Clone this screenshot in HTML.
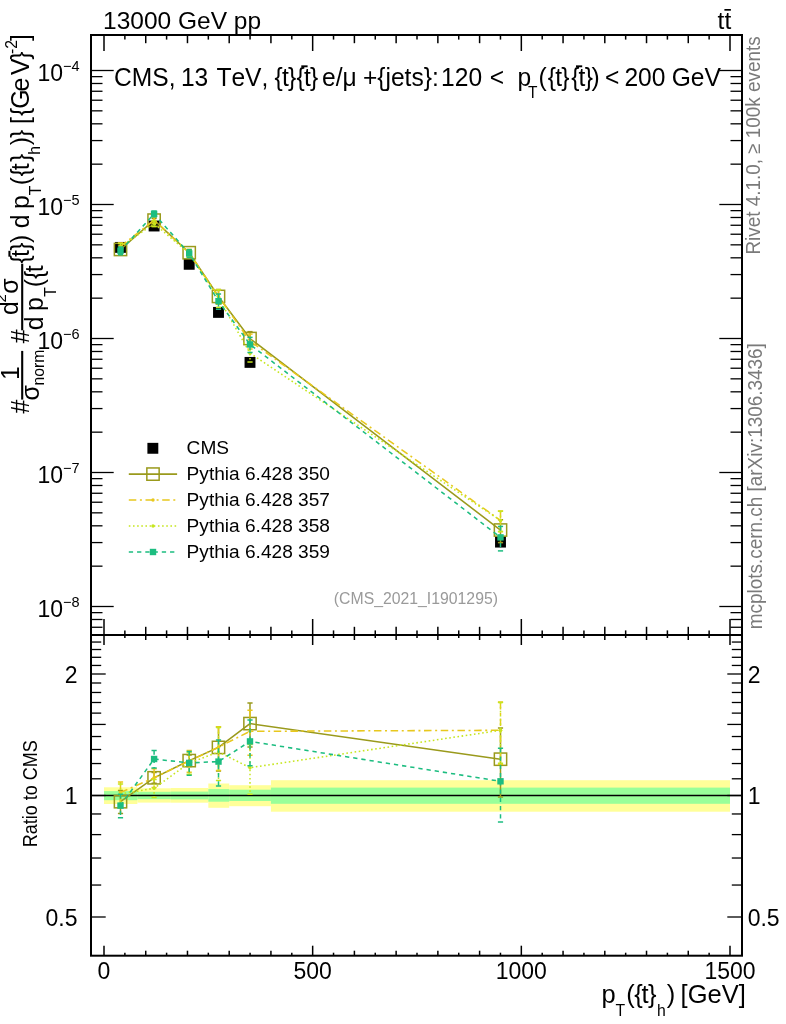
<!DOCTYPE html>
<html><head><meta charset="utf-8"><title>plot</title>
<style>
html,body{margin:0;padding:0;background:#fff;}
body{width:786px;height:1024px;overflow:hidden;font-family:"Liberation Sans",sans-serif;}
svg{display:block;font-kerning:none;will-change:transform;font-family:"Liberation Sans",sans-serif;}
</style></head><body>
<svg width="786" height="1024" viewBox="0 0 786 1024">
<rect width="786" height="1024" fill="#fff"/>
<rect x="104.00" y="787.30" width="33.39" height="16.70" fill="#ffff99"/>
<rect x="137.39" y="788.30" width="33.39" height="14.30" fill="#ffff99"/>
<rect x="170.77" y="788.00" width="37.56" height="14.70" fill="#ffff99"/>
<rect x="208.33" y="783.50" width="20.87" height="24.30" fill="#ffff99"/>
<rect x="229.20" y="785.20" width="41.73" height="21.00" fill="#ffff99"/>
<rect x="270.93" y="780.20" width="459.06" height="31.50" fill="#ffff99"/>
<rect x="104.00" y="791.10" width="33.39" height="9.10" fill="#99ff99"/>
<rect x="137.39" y="791.80" width="33.39" height="7.40" fill="#99ff99"/>
<rect x="170.77" y="791.60" width="37.56" height="7.80" fill="#99ff99"/>
<rect x="208.33" y="789.10" width="20.87" height="12.60" fill="#99ff99"/>
<rect x="229.20" y="789.70" width="41.73" height="11.30" fill="#99ff99"/>
<rect x="270.93" y="787.60" width="459.06" height="16.20" fill="#99ff99"/>
<line x1="91.00" y1="795.50" x2="742.00" y2="795.50" stroke="#000" stroke-width="1.3" />
<defs><clipPath id="cm"><rect x="91.0" y="35.0" width="651.0" height="600.0"/></clipPath><clipPath id="cr"><rect x="91.0" y="635.0" width="651.0" height="320.70000000000005"/></clipPath></defs>
<g clip-path="url(#cm)">
<rect x="115.05" y="241.95" width="10.9" height="10.9" fill="#000"/>
<rect x="148.65" y="220.55" width="10.9" height="10.9" fill="#000"/>
<rect x="183.75" y="258.85" width="10.9" height="10.9" fill="#000"/>
<rect x="213.05" y="306.95" width="10.9" height="10.9" fill="#000"/>
<rect x="244.55" y="356.95" width="10.9" height="10.9" fill="#000"/>
<rect x="495.05" y="536.65" width="10.9" height="10.9" fill="#000"/>
<polyline fill="none" stroke="#9a9a1c" stroke-width="1.55"  points="120.50,249.46 154.10,220.12 189.20,252.71 218.50,296.43 250.00,338.53 500.50,530.05"/>
<line x1="120.50" y1="245.77" x2="120.50" y2="253.39" stroke="#9a9a1c" stroke-width="1.5" />
<line x1="117.90" y1="245.77" x2="123.10" y2="245.77" stroke="#9a9a1c" stroke-width="1.5" />
<line x1="117.90" y1="253.39" x2="123.10" y2="253.39" stroke="#9a9a1c" stroke-width="1.5" />
<line x1="154.10" y1="218.36" x2="154.10" y2="221.94" stroke="#9a9a1c" stroke-width="1.5" />
<line x1="151.50" y1="218.36" x2="156.70" y2="218.36" stroke="#9a9a1c" stroke-width="1.5" />
<line x1="151.50" y1="221.94" x2="156.70" y2="221.94" stroke="#9a9a1c" stroke-width="1.5" />
<line x1="189.20" y1="250.85" x2="189.20" y2="254.63" stroke="#9a9a1c" stroke-width="1.5" />
<line x1="186.60" y1="250.85" x2="191.80" y2="250.85" stroke="#9a9a1c" stroke-width="1.5" />
<line x1="186.60" y1="254.63" x2="191.80" y2="254.63" stroke="#9a9a1c" stroke-width="1.5" />
<line x1="218.50" y1="289.56" x2="218.50" y2="304.22" stroke="#9a9a1c" stroke-width="1.5" />
<line x1="215.90" y1="289.56" x2="221.10" y2="289.56" stroke="#9a9a1c" stroke-width="1.5" />
<line x1="215.90" y1="304.22" x2="221.10" y2="304.22" stroke="#9a9a1c" stroke-width="1.5" />
<line x1="250.00" y1="331.66" x2="250.00" y2="346.32" stroke="#9a9a1c" stroke-width="1.5" />
<line x1="247.40" y1="331.66" x2="252.60" y2="331.66" stroke="#9a9a1c" stroke-width="1.5" />
<line x1="247.40" y1="346.32" x2="252.60" y2="346.32" stroke="#9a9a1c" stroke-width="1.5" />
<line x1="500.50" y1="519.72" x2="500.50" y2="542.61" stroke="#9a9a1c" stroke-width="1.5" />
<line x1="497.90" y1="519.72" x2="503.10" y2="519.72" stroke="#9a9a1c" stroke-width="1.5" />
<line x1="497.90" y1="542.61" x2="503.10" y2="542.61" stroke="#9a9a1c" stroke-width="1.5" />
<rect x="114.35" y="243.31" width="12.3" height="12.3" fill="none" stroke="#9a9a1c" stroke-width="1.5"/>
<rect x="147.95" y="213.97" width="12.3" height="12.3" fill="none" stroke="#9a9a1c" stroke-width="1.5"/>
<rect x="183.05" y="246.56" width="12.3" height="12.3" fill="none" stroke="#9a9a1c" stroke-width="1.5"/>
<rect x="212.35" y="290.28" width="12.3" height="12.3" fill="none" stroke="#9a9a1c" stroke-width="1.5"/>
<rect x="243.85" y="332.38" width="12.3" height="12.3" fill="none" stroke="#9a9a1c" stroke-width="1.5"/>
<rect x="494.35" y="523.90" width="12.3" height="12.3" fill="none" stroke="#9a9a1c" stroke-width="1.5"/>
<polyline fill="none" stroke="#e8c81e" stroke-width="1.55" stroke-dasharray="7.5 3.6 2 3.6" points="120.50,246.40 154.10,220.12 189.20,252.85 218.50,296.36 250.00,341.08 500.50,520.45"/>
<line x1="120.50" y1="242.92" x2="120.50" y2="250.11" stroke="#e8c81e" stroke-width="1.5" stroke-dasharray="7.5 3.6 2 3.6"/>
<line x1="117.90" y1="242.92" x2="123.10" y2="242.92" stroke="#e8c81e" stroke-width="1.5" />
<line x1="117.90" y1="250.11" x2="123.10" y2="250.11" stroke="#e8c81e" stroke-width="1.5" />
<line x1="154.10" y1="217.10" x2="154.10" y2="223.31" stroke="#e8c81e" stroke-width="1.5" stroke-dasharray="7.5 3.6 2 3.6"/>
<line x1="151.50" y1="217.10" x2="156.70" y2="217.10" stroke="#e8c81e" stroke-width="1.5" />
<line x1="151.50" y1="223.31" x2="156.70" y2="223.31" stroke="#e8c81e" stroke-width="1.5" />
<line x1="189.20" y1="249.36" x2="189.20" y2="256.55" stroke="#e8c81e" stroke-width="1.5" stroke-dasharray="7.5 3.6 2 3.6"/>
<line x1="186.60" y1="249.36" x2="191.80" y2="249.36" stroke="#e8c81e" stroke-width="1.5" />
<line x1="186.60" y1="256.55" x2="191.80" y2="256.55" stroke="#e8c81e" stroke-width="1.5" />
<line x1="218.50" y1="289.56" x2="218.50" y2="304.07" stroke="#e8c81e" stroke-width="1.5" stroke-dasharray="7.5 3.6 2 3.6"/>
<line x1="215.90" y1="289.56" x2="221.10" y2="289.56" stroke="#e8c81e" stroke-width="1.5" />
<line x1="215.90" y1="304.07" x2="221.10" y2="304.07" stroke="#e8c81e" stroke-width="1.5" />
<line x1="250.00" y1="334.11" x2="250.00" y2="349.01" stroke="#e8c81e" stroke-width="1.5" stroke-dasharray="7.5 3.6 2 3.6"/>
<line x1="247.40" y1="334.11" x2="252.60" y2="334.11" stroke="#e8c81e" stroke-width="1.5" />
<line x1="247.40" y1="349.01" x2="252.60" y2="349.01" stroke="#e8c81e" stroke-width="1.5" />
<line x1="500.50" y1="511.02" x2="500.50" y2="531.71" stroke="#e8c81e" stroke-width="1.5" stroke-dasharray="7.5 3.6 2 3.6"/>
<line x1="497.90" y1="511.02" x2="503.10" y2="511.02" stroke="#e8c81e" stroke-width="1.5" />
<line x1="497.90" y1="531.71" x2="503.10" y2="531.71" stroke="#e8c81e" stroke-width="1.5" />
<circle cx="120.50" cy="246.40" r="1.7" fill="#e8c81e"/>
<circle cx="154.10" cy="220.12" r="1.7" fill="#e8c81e"/>
<circle cx="189.20" cy="252.85" r="1.7" fill="#e8c81e"/>
<circle cx="218.50" cy="296.36" r="1.7" fill="#e8c81e"/>
<circle cx="250.00" cy="341.08" r="1.7" fill="#e8c81e"/>
<circle cx="500.50" cy="520.45" r="1.7" fill="#e8c81e"/>
<polyline fill="none" stroke="#c6e61e" stroke-width="1.55" stroke-dasharray="1.6 2.56" points="120.50,246.90 154.10,223.61 189.20,253.51 218.50,297.96 250.00,353.17 500.50,520.45"/>
<line x1="120.50" y1="243.58" x2="120.50" y2="250.42" stroke="#c6e61e" stroke-width="1.5" stroke-dasharray="1.6 2.56"/>
<line x1="117.90" y1="243.58" x2="123.10" y2="243.58" stroke="#c6e61e" stroke-width="1.5" />
<line x1="117.90" y1="250.42" x2="123.10" y2="250.42" stroke="#c6e61e" stroke-width="1.5" />
<line x1="154.10" y1="220.72" x2="154.10" y2="226.65" stroke="#c6e61e" stroke-width="1.5" stroke-dasharray="1.6 2.56"/>
<line x1="151.50" y1="220.72" x2="156.70" y2="220.72" stroke="#c6e61e" stroke-width="1.5" />
<line x1="151.50" y1="226.65" x2="156.70" y2="226.65" stroke="#c6e61e" stroke-width="1.5" />
<line x1="189.20" y1="250.02" x2="189.20" y2="257.22" stroke="#c6e61e" stroke-width="1.5" stroke-dasharray="1.6 2.56"/>
<line x1="186.60" y1="250.02" x2="191.80" y2="250.02" stroke="#c6e61e" stroke-width="1.5" />
<line x1="186.60" y1="257.22" x2="191.80" y2="257.22" stroke="#c6e61e" stroke-width="1.5" />
<line x1="218.50" y1="289.82" x2="218.50" y2="307.42" stroke="#c6e61e" stroke-width="1.5" stroke-dasharray="1.6 2.56"/>
<line x1="215.90" y1="289.82" x2="221.10" y2="289.82" stroke="#c6e61e" stroke-width="1.5" />
<line x1="215.90" y1="307.42" x2="221.10" y2="307.42" stroke="#c6e61e" stroke-width="1.5" />
<line x1="250.00" y1="345.50" x2="250.00" y2="362.01" stroke="#c6e61e" stroke-width="1.5" stroke-dasharray="1.6 2.56"/>
<line x1="247.40" y1="345.50" x2="252.60" y2="345.50" stroke="#c6e61e" stroke-width="1.5" />
<line x1="247.40" y1="362.01" x2="252.60" y2="362.01" stroke="#c6e61e" stroke-width="1.5" />
<line x1="500.50" y1="511.22" x2="500.50" y2="531.43" stroke="#c6e61e" stroke-width="1.5" stroke-dasharray="1.6 2.56"/>
<line x1="497.90" y1="511.22" x2="503.10" y2="511.22" stroke="#c6e61e" stroke-width="1.5" />
<line x1="497.90" y1="531.43" x2="503.10" y2="531.43" stroke="#c6e61e" stroke-width="1.5" />
<circle cx="120.50" cy="246.90" r="1.7" fill="#c6e61e"/>
<circle cx="154.10" cy="223.61" r="1.7" fill="#c6e61e"/>
<circle cx="189.20" cy="253.51" r="1.7" fill="#c6e61e"/>
<circle cx="218.50" cy="297.96" r="1.7" fill="#c6e61e"/>
<circle cx="250.00" cy="353.17" r="1.7" fill="#c6e61e"/>
<circle cx="500.50" cy="520.45" r="1.7" fill="#c6e61e"/>
<polyline fill="none" stroke="#1cbd80" stroke-width="1.55" stroke-dasharray="4.3 3.95" points="120.50,250.75 154.10,213.88 189.20,253.48 218.50,301.14 250.00,344.44 500.50,537.39"/>
<line x1="120.50" y1="247.00" x2="120.50" y2="254.76" stroke="#1cbd80" stroke-width="1.5" stroke-dasharray="4.3 3.95"/>
<line x1="117.90" y1="247.00" x2="123.10" y2="247.00" stroke="#1cbd80" stroke-width="1.5" />
<line x1="117.90" y1="254.76" x2="123.10" y2="254.76" stroke="#1cbd80" stroke-width="1.5" />
<line x1="154.10" y1="211.06" x2="154.10" y2="216.85" stroke="#1cbd80" stroke-width="1.5" stroke-dasharray="4.3 3.95"/>
<line x1="151.50" y1="211.06" x2="156.70" y2="211.06" stroke="#1cbd80" stroke-width="1.5" />
<line x1="151.50" y1="216.85" x2="156.70" y2="216.85" stroke="#1cbd80" stroke-width="1.5" />
<line x1="189.20" y1="249.66" x2="189.20" y2="257.56" stroke="#1cbd80" stroke-width="1.5" stroke-dasharray="4.3 3.95"/>
<line x1="186.60" y1="249.66" x2="191.80" y2="249.66" stroke="#1cbd80" stroke-width="1.5" />
<line x1="186.60" y1="257.56" x2="191.80" y2="257.56" stroke="#1cbd80" stroke-width="1.5" />
<line x1="218.50" y1="294.01" x2="218.50" y2="309.28" stroke="#1cbd80" stroke-width="1.5" stroke-dasharray="4.3 3.95"/>
<line x1="215.90" y1="294.01" x2="221.10" y2="294.01" stroke="#1cbd80" stroke-width="1.5" />
<line x1="215.90" y1="309.28" x2="221.10" y2="309.28" stroke="#1cbd80" stroke-width="1.5" />
<line x1="250.00" y1="337.37" x2="250.00" y2="352.49" stroke="#1cbd80" stroke-width="1.5" stroke-dasharray="4.3 3.95"/>
<line x1="247.40" y1="337.37" x2="252.60" y2="337.37" stroke="#1cbd80" stroke-width="1.5" />
<line x1="247.40" y1="352.49" x2="252.60" y2="352.49" stroke="#1cbd80" stroke-width="1.5" />
<line x1="500.50" y1="526.43" x2="500.50" y2="550.89" stroke="#1cbd80" stroke-width="1.5" stroke-dasharray="4.3 3.95"/>
<line x1="497.90" y1="526.43" x2="503.10" y2="526.43" stroke="#1cbd80" stroke-width="1.5" />
<line x1="497.90" y1="550.89" x2="503.10" y2="550.89" stroke="#1cbd80" stroke-width="1.5" />
<rect x="117.30" y="247.55" width="6.4" height="6.4" fill="#1cbd80"/>
<rect x="150.90" y="210.68" width="6.4" height="6.4" fill="#1cbd80"/>
<rect x="186.00" y="250.28" width="6.4" height="6.4" fill="#1cbd80"/>
<rect x="215.30" y="297.94" width="6.4" height="6.4" fill="#1cbd80"/>
<rect x="246.80" y="341.24" width="6.4" height="6.4" fill="#1cbd80"/>
<rect x="497.30" y="534.19" width="6.4" height="6.4" fill="#1cbd80"/>
</g>
<g clip-path="url(#cr)">
<polyline fill="none" stroke="#9a9a1c" stroke-width="1.55"  points="120.50,801.70 154.10,777.80 189.20,760.60 218.50,747.40 250.00,723.60 500.50,759.20"/>
<line x1="120.50" y1="790.60" x2="120.50" y2="813.55" stroke="#9a9a1c" stroke-width="1.5" />
<line x1="117.90" y1="790.60" x2="123.10" y2="790.60" stroke="#9a9a1c" stroke-width="1.5" />
<line x1="117.90" y1="813.55" x2="123.10" y2="813.55" stroke="#9a9a1c" stroke-width="1.5" />
<line x1="154.10" y1="772.50" x2="154.10" y2="783.27" stroke="#9a9a1c" stroke-width="1.5" />
<line x1="151.50" y1="772.50" x2="156.70" y2="772.50" stroke="#9a9a1c" stroke-width="1.5" />
<line x1="151.50" y1="783.27" x2="156.70" y2="783.27" stroke="#9a9a1c" stroke-width="1.5" />
<line x1="189.20" y1="755.00" x2="189.20" y2="766.38" stroke="#9a9a1c" stroke-width="1.5" />
<line x1="186.60" y1="755.00" x2="191.80" y2="755.00" stroke="#9a9a1c" stroke-width="1.5" />
<line x1="186.60" y1="766.38" x2="191.80" y2="766.38" stroke="#9a9a1c" stroke-width="1.5" />
<line x1="218.50" y1="726.70" x2="218.50" y2="770.88" stroke="#9a9a1c" stroke-width="1.5" />
<line x1="215.90" y1="726.70" x2="221.10" y2="726.70" stroke="#9a9a1c" stroke-width="1.5" />
<line x1="215.90" y1="770.88" x2="221.10" y2="770.88" stroke="#9a9a1c" stroke-width="1.5" />
<line x1="250.00" y1="702.90" x2="250.00" y2="747.08" stroke="#9a9a1c" stroke-width="1.5" />
<line x1="247.40" y1="702.90" x2="252.60" y2="702.90" stroke="#9a9a1c" stroke-width="1.5" />
<line x1="247.40" y1="747.08" x2="252.60" y2="747.08" stroke="#9a9a1c" stroke-width="1.5" />
<line x1="500.50" y1="728.10" x2="500.50" y2="797.03" stroke="#9a9a1c" stroke-width="1.5" />
<line x1="497.90" y1="728.10" x2="503.10" y2="728.10" stroke="#9a9a1c" stroke-width="1.5" />
<line x1="497.90" y1="797.03" x2="503.10" y2="797.03" stroke="#9a9a1c" stroke-width="1.5" />
<rect x="114.35" y="795.55" width="12.3" height="12.3" fill="none" stroke="#9a9a1c" stroke-width="1.5"/>
<rect x="147.95" y="771.65" width="12.3" height="12.3" fill="none" stroke="#9a9a1c" stroke-width="1.5"/>
<rect x="183.05" y="754.45" width="12.3" height="12.3" fill="none" stroke="#9a9a1c" stroke-width="1.5"/>
<rect x="212.35" y="741.25" width="12.3" height="12.3" fill="none" stroke="#9a9a1c" stroke-width="1.5"/>
<rect x="243.85" y="717.45" width="12.3" height="12.3" fill="none" stroke="#9a9a1c" stroke-width="1.5"/>
<rect x="494.35" y="753.05" width="12.3" height="12.3" fill="none" stroke="#9a9a1c" stroke-width="1.5"/>
<polyline fill="none" stroke="#e8c81e" stroke-width="1.55" stroke-dasharray="7.5 3.6 2 3.6" points="120.50,792.50 154.10,777.80 189.20,761.00 218.50,747.20 250.00,731.30 500.50,730.30"/>
<line x1="120.50" y1="782.00" x2="120.50" y2="803.67" stroke="#e8c81e" stroke-width="1.5" stroke-dasharray="7.5 3.6 2 3.6"/>
<line x1="117.90" y1="782.00" x2="123.10" y2="782.00" stroke="#e8c81e" stroke-width="1.5" />
<line x1="117.90" y1="803.67" x2="123.10" y2="803.67" stroke="#e8c81e" stroke-width="1.5" />
<line x1="154.10" y1="768.70" x2="154.10" y2="787.40" stroke="#e8c81e" stroke-width="1.5" stroke-dasharray="7.5 3.6 2 3.6"/>
<line x1="151.50" y1="768.70" x2="156.70" y2="768.70" stroke="#e8c81e" stroke-width="1.5" />
<line x1="151.50" y1="787.40" x2="156.70" y2="787.40" stroke="#e8c81e" stroke-width="1.5" />
<line x1="189.20" y1="750.50" x2="189.20" y2="772.17" stroke="#e8c81e" stroke-width="1.5" stroke-dasharray="7.5 3.6 2 3.6"/>
<line x1="186.60" y1="750.50" x2="191.80" y2="750.50" stroke="#e8c81e" stroke-width="1.5" />
<line x1="186.60" y1="772.17" x2="191.80" y2="772.17" stroke="#e8c81e" stroke-width="1.5" />
<line x1="218.50" y1="726.70" x2="218.50" y2="770.42" stroke="#e8c81e" stroke-width="1.5" stroke-dasharray="7.5 3.6 2 3.6"/>
<line x1="215.90" y1="726.70" x2="221.10" y2="726.70" stroke="#e8c81e" stroke-width="1.5" />
<line x1="215.90" y1="770.42" x2="221.10" y2="770.42" stroke="#e8c81e" stroke-width="1.5" />
<line x1="250.00" y1="710.30" x2="250.00" y2="755.16" stroke="#e8c81e" stroke-width="1.5" stroke-dasharray="7.5 3.6 2 3.6"/>
<line x1="247.40" y1="710.30" x2="252.60" y2="710.30" stroke="#e8c81e" stroke-width="1.5" />
<line x1="247.40" y1="755.16" x2="252.60" y2="755.16" stroke="#e8c81e" stroke-width="1.5" />
<line x1="500.50" y1="701.90" x2="500.50" y2="764.21" stroke="#e8c81e" stroke-width="1.5" stroke-dasharray="7.5 3.6 2 3.6"/>
<line x1="497.90" y1="701.90" x2="503.10" y2="701.90" stroke="#e8c81e" stroke-width="1.5" />
<line x1="497.90" y1="764.21" x2="503.10" y2="764.21" stroke="#e8c81e" stroke-width="1.5" />
<circle cx="120.50" cy="792.50" r="1.7" fill="#e8c81e"/>
<circle cx="154.10" cy="777.80" r="1.7" fill="#e8c81e"/>
<circle cx="189.20" cy="761.00" r="1.7" fill="#e8c81e"/>
<circle cx="218.50" cy="747.20" r="1.7" fill="#e8c81e"/>
<circle cx="250.00" cy="731.30" r="1.7" fill="#e8c81e"/>
<circle cx="500.50" cy="730.30" r="1.7" fill="#e8c81e"/>
<polyline fill="none" stroke="#c6e61e" stroke-width="1.55" stroke-dasharray="1.6 2.56" points="120.50,794.00 154.10,788.30 189.20,763.00 218.50,752.00 250.00,767.70 500.50,730.30"/>
<line x1="120.50" y1="784.00" x2="120.50" y2="804.61" stroke="#c6e61e" stroke-width="1.5" stroke-dasharray="1.6 2.56"/>
<line x1="117.90" y1="784.00" x2="123.10" y2="784.00" stroke="#c6e61e" stroke-width="1.5" />
<line x1="117.90" y1="804.61" x2="123.10" y2="804.61" stroke="#c6e61e" stroke-width="1.5" />
<line x1="154.10" y1="779.60" x2="154.10" y2="797.45" stroke="#c6e61e" stroke-width="1.5" stroke-dasharray="1.6 2.56"/>
<line x1="151.50" y1="779.60" x2="156.70" y2="779.60" stroke="#c6e61e" stroke-width="1.5" />
<line x1="151.50" y1="797.45" x2="156.70" y2="797.45" stroke="#c6e61e" stroke-width="1.5" />
<line x1="189.20" y1="752.50" x2="189.20" y2="774.17" stroke="#c6e61e" stroke-width="1.5" stroke-dasharray="1.6 2.56"/>
<line x1="186.60" y1="752.50" x2="191.80" y2="752.50" stroke="#c6e61e" stroke-width="1.5" />
<line x1="186.60" y1="774.17" x2="191.80" y2="774.17" stroke="#c6e61e" stroke-width="1.5" />
<line x1="218.50" y1="727.50" x2="218.50" y2="780.49" stroke="#c6e61e" stroke-width="1.5" stroke-dasharray="1.6 2.56"/>
<line x1="215.90" y1="727.50" x2="221.10" y2="727.50" stroke="#c6e61e" stroke-width="1.5" />
<line x1="215.90" y1="780.49" x2="221.10" y2="780.49" stroke="#c6e61e" stroke-width="1.5" />
<line x1="250.00" y1="744.60" x2="250.00" y2="794.31" stroke="#c6e61e" stroke-width="1.5" stroke-dasharray="1.6 2.56"/>
<line x1="247.40" y1="744.60" x2="252.60" y2="744.60" stroke="#c6e61e" stroke-width="1.5" />
<line x1="247.40" y1="794.31" x2="252.60" y2="794.31" stroke="#c6e61e" stroke-width="1.5" />
<line x1="500.50" y1="702.50" x2="500.50" y2="763.36" stroke="#c6e61e" stroke-width="1.5" stroke-dasharray="1.6 2.56"/>
<line x1="497.90" y1="702.50" x2="503.10" y2="702.50" stroke="#c6e61e" stroke-width="1.5" />
<line x1="497.90" y1="763.36" x2="503.10" y2="763.36" stroke="#c6e61e" stroke-width="1.5" />
<circle cx="120.50" cy="794.00" r="1.7" fill="#c6e61e"/>
<circle cx="154.10" cy="788.30" r="1.7" fill="#c6e61e"/>
<circle cx="189.20" cy="763.00" r="1.7" fill="#c6e61e"/>
<circle cx="218.50" cy="752.00" r="1.7" fill="#c6e61e"/>
<circle cx="250.00" cy="767.70" r="1.7" fill="#c6e61e"/>
<circle cx="500.50" cy="730.30" r="1.7" fill="#c6e61e"/>
<polyline fill="none" stroke="#1cbd80" stroke-width="1.55" stroke-dasharray="4.3 3.95" points="120.50,805.60 154.10,759.00 189.20,762.90 218.50,761.60 250.00,741.40 500.50,781.30"/>
<line x1="120.50" y1="794.30" x2="120.50" y2="817.68" stroke="#1cbd80" stroke-width="1.5" stroke-dasharray="4.3 3.95"/>
<line x1="117.90" y1="794.30" x2="123.10" y2="794.30" stroke="#1cbd80" stroke-width="1.5" />
<line x1="117.90" y1="817.68" x2="123.10" y2="817.68" stroke="#1cbd80" stroke-width="1.5" />
<line x1="154.10" y1="750.50" x2="154.10" y2="767.93" stroke="#1cbd80" stroke-width="1.5" stroke-dasharray="4.3 3.95"/>
<line x1="151.50" y1="750.50" x2="156.70" y2="750.50" stroke="#1cbd80" stroke-width="1.5" />
<line x1="151.50" y1="767.93" x2="156.70" y2="767.93" stroke="#1cbd80" stroke-width="1.5" />
<line x1="189.20" y1="751.40" x2="189.20" y2="775.21" stroke="#1cbd80" stroke-width="1.5" stroke-dasharray="4.3 3.95"/>
<line x1="186.60" y1="751.40" x2="191.80" y2="751.40" stroke="#1cbd80" stroke-width="1.5" />
<line x1="186.60" y1="775.21" x2="191.80" y2="775.21" stroke="#1cbd80" stroke-width="1.5" />
<line x1="218.50" y1="740.10" x2="218.50" y2="786.11" stroke="#1cbd80" stroke-width="1.5" stroke-dasharray="4.3 3.95"/>
<line x1="215.90" y1="740.10" x2="221.10" y2="740.10" stroke="#1cbd80" stroke-width="1.5" />
<line x1="215.90" y1="786.11" x2="221.10" y2="786.11" stroke="#1cbd80" stroke-width="1.5" />
<line x1="250.00" y1="720.10" x2="250.00" y2="765.65" stroke="#1cbd80" stroke-width="1.5" stroke-dasharray="4.3 3.95"/>
<line x1="247.40" y1="720.10" x2="252.60" y2="720.10" stroke="#1cbd80" stroke-width="1.5" />
<line x1="247.40" y1="765.65" x2="252.60" y2="765.65" stroke="#1cbd80" stroke-width="1.5" />
<line x1="500.50" y1="748.30" x2="500.50" y2="821.99" stroke="#1cbd80" stroke-width="1.5" stroke-dasharray="4.3 3.95"/>
<line x1="497.90" y1="748.30" x2="503.10" y2="748.30" stroke="#1cbd80" stroke-width="1.5" />
<line x1="497.90" y1="821.99" x2="503.10" y2="821.99" stroke="#1cbd80" stroke-width="1.5" />
<rect x="117.30" y="802.40" width="6.4" height="6.4" fill="#1cbd80"/>
<rect x="150.90" y="755.80" width="6.4" height="6.4" fill="#1cbd80"/>
<rect x="186.00" y="759.70" width="6.4" height="6.4" fill="#1cbd80"/>
<rect x="215.30" y="758.40" width="6.4" height="6.4" fill="#1cbd80"/>
<rect x="246.80" y="738.20" width="6.4" height="6.4" fill="#1cbd80"/>
<rect x="497.30" y="778.10" width="6.4" height="6.4" fill="#1cbd80"/>
</g>
<line x1="104.00" y1="35.00" x2="104.00" y2="51.00" stroke="#000" stroke-width="1.5" />
<line x1="104.00" y1="619.00" x2="104.00" y2="645.00" stroke="#000" stroke-width="1.5" />
<line x1="104.00" y1="945.70" x2="104.00" y2="955.70" stroke="#000" stroke-width="1.5" />
<line x1="124.87" y1="35.00" x2="124.87" y2="39.60" stroke="#000" stroke-width="1.5" />
<line x1="124.87" y1="630.40" x2="124.87" y2="638.00" stroke="#000" stroke-width="1.5" />
<line x1="124.87" y1="952.70" x2="124.87" y2="955.70" stroke="#000" stroke-width="1.5" />
<line x1="145.73" y1="35.00" x2="145.73" y2="43.20" stroke="#000" stroke-width="1.5" />
<line x1="145.73" y1="626.80" x2="145.73" y2="640.00" stroke="#000" stroke-width="1.5" />
<line x1="145.73" y1="950.70" x2="145.73" y2="955.70" stroke="#000" stroke-width="1.5" />
<line x1="166.60" y1="35.00" x2="166.60" y2="39.60" stroke="#000" stroke-width="1.5" />
<line x1="166.60" y1="630.40" x2="166.60" y2="638.00" stroke="#000" stroke-width="1.5" />
<line x1="166.60" y1="952.70" x2="166.60" y2="955.70" stroke="#000" stroke-width="1.5" />
<line x1="187.47" y1="35.00" x2="187.47" y2="43.20" stroke="#000" stroke-width="1.5" />
<line x1="187.47" y1="626.80" x2="187.47" y2="640.00" stroke="#000" stroke-width="1.5" />
<line x1="187.47" y1="950.70" x2="187.47" y2="955.70" stroke="#000" stroke-width="1.5" />
<line x1="208.33" y1="35.00" x2="208.33" y2="39.60" stroke="#000" stroke-width="1.5" />
<line x1="208.33" y1="630.40" x2="208.33" y2="638.00" stroke="#000" stroke-width="1.5" />
<line x1="208.33" y1="952.70" x2="208.33" y2="955.70" stroke="#000" stroke-width="1.5" />
<line x1="229.20" y1="35.00" x2="229.20" y2="43.20" stroke="#000" stroke-width="1.5" />
<line x1="229.20" y1="626.80" x2="229.20" y2="640.00" stroke="#000" stroke-width="1.5" />
<line x1="229.20" y1="950.70" x2="229.20" y2="955.70" stroke="#000" stroke-width="1.5" />
<line x1="250.07" y1="35.00" x2="250.07" y2="39.60" stroke="#000" stroke-width="1.5" />
<line x1="250.07" y1="630.40" x2="250.07" y2="638.00" stroke="#000" stroke-width="1.5" />
<line x1="250.07" y1="952.70" x2="250.07" y2="955.70" stroke="#000" stroke-width="1.5" />
<line x1="270.93" y1="35.00" x2="270.93" y2="43.20" stroke="#000" stroke-width="1.5" />
<line x1="270.93" y1="626.80" x2="270.93" y2="640.00" stroke="#000" stroke-width="1.5" />
<line x1="270.93" y1="950.70" x2="270.93" y2="955.70" stroke="#000" stroke-width="1.5" />
<line x1="291.80" y1="35.00" x2="291.80" y2="39.60" stroke="#000" stroke-width="1.5" />
<line x1="291.80" y1="630.40" x2="291.80" y2="638.00" stroke="#000" stroke-width="1.5" />
<line x1="291.80" y1="952.70" x2="291.80" y2="955.70" stroke="#000" stroke-width="1.5" />
<line x1="312.66" y1="35.00" x2="312.66" y2="51.00" stroke="#000" stroke-width="1.5" />
<line x1="312.66" y1="619.00" x2="312.66" y2="645.00" stroke="#000" stroke-width="1.5" />
<line x1="312.66" y1="945.70" x2="312.66" y2="955.70" stroke="#000" stroke-width="1.5" />
<line x1="333.53" y1="35.00" x2="333.53" y2="39.60" stroke="#000" stroke-width="1.5" />
<line x1="333.53" y1="630.40" x2="333.53" y2="638.00" stroke="#000" stroke-width="1.5" />
<line x1="333.53" y1="952.70" x2="333.53" y2="955.70" stroke="#000" stroke-width="1.5" />
<line x1="354.40" y1="35.00" x2="354.40" y2="43.20" stroke="#000" stroke-width="1.5" />
<line x1="354.40" y1="626.80" x2="354.40" y2="640.00" stroke="#000" stroke-width="1.5" />
<line x1="354.40" y1="950.70" x2="354.40" y2="955.70" stroke="#000" stroke-width="1.5" />
<line x1="375.26" y1="35.00" x2="375.26" y2="39.60" stroke="#000" stroke-width="1.5" />
<line x1="375.26" y1="630.40" x2="375.26" y2="638.00" stroke="#000" stroke-width="1.5" />
<line x1="375.26" y1="952.70" x2="375.26" y2="955.70" stroke="#000" stroke-width="1.5" />
<line x1="396.13" y1="35.00" x2="396.13" y2="43.20" stroke="#000" stroke-width="1.5" />
<line x1="396.13" y1="626.80" x2="396.13" y2="640.00" stroke="#000" stroke-width="1.5" />
<line x1="396.13" y1="950.70" x2="396.13" y2="955.70" stroke="#000" stroke-width="1.5" />
<line x1="417.00" y1="35.00" x2="417.00" y2="39.60" stroke="#000" stroke-width="1.5" />
<line x1="417.00" y1="630.40" x2="417.00" y2="638.00" stroke="#000" stroke-width="1.5" />
<line x1="417.00" y1="952.70" x2="417.00" y2="955.70" stroke="#000" stroke-width="1.5" />
<line x1="437.86" y1="35.00" x2="437.86" y2="43.20" stroke="#000" stroke-width="1.5" />
<line x1="437.86" y1="626.80" x2="437.86" y2="640.00" stroke="#000" stroke-width="1.5" />
<line x1="437.86" y1="950.70" x2="437.86" y2="955.70" stroke="#000" stroke-width="1.5" />
<line x1="458.73" y1="35.00" x2="458.73" y2="39.60" stroke="#000" stroke-width="1.5" />
<line x1="458.73" y1="630.40" x2="458.73" y2="638.00" stroke="#000" stroke-width="1.5" />
<line x1="458.73" y1="952.70" x2="458.73" y2="955.70" stroke="#000" stroke-width="1.5" />
<line x1="479.60" y1="35.00" x2="479.60" y2="43.20" stroke="#000" stroke-width="1.5" />
<line x1="479.60" y1="626.80" x2="479.60" y2="640.00" stroke="#000" stroke-width="1.5" />
<line x1="479.60" y1="950.70" x2="479.60" y2="955.70" stroke="#000" stroke-width="1.5" />
<line x1="500.46" y1="35.00" x2="500.46" y2="39.60" stroke="#000" stroke-width="1.5" />
<line x1="500.46" y1="630.40" x2="500.46" y2="638.00" stroke="#000" stroke-width="1.5" />
<line x1="500.46" y1="952.70" x2="500.46" y2="955.70" stroke="#000" stroke-width="1.5" />
<line x1="521.33" y1="35.00" x2="521.33" y2="51.00" stroke="#000" stroke-width="1.5" />
<line x1="521.33" y1="619.00" x2="521.33" y2="645.00" stroke="#000" stroke-width="1.5" />
<line x1="521.33" y1="945.70" x2="521.33" y2="955.70" stroke="#000" stroke-width="1.5" />
<line x1="542.20" y1="35.00" x2="542.20" y2="39.60" stroke="#000" stroke-width="1.5" />
<line x1="542.20" y1="630.40" x2="542.20" y2="638.00" stroke="#000" stroke-width="1.5" />
<line x1="542.20" y1="952.70" x2="542.20" y2="955.70" stroke="#000" stroke-width="1.5" />
<line x1="563.06" y1="35.00" x2="563.06" y2="43.20" stroke="#000" stroke-width="1.5" />
<line x1="563.06" y1="626.80" x2="563.06" y2="640.00" stroke="#000" stroke-width="1.5" />
<line x1="563.06" y1="950.70" x2="563.06" y2="955.70" stroke="#000" stroke-width="1.5" />
<line x1="583.93" y1="35.00" x2="583.93" y2="39.60" stroke="#000" stroke-width="1.5" />
<line x1="583.93" y1="630.40" x2="583.93" y2="638.00" stroke="#000" stroke-width="1.5" />
<line x1="583.93" y1="952.70" x2="583.93" y2="955.70" stroke="#000" stroke-width="1.5" />
<line x1="604.80" y1="35.00" x2="604.80" y2="43.20" stroke="#000" stroke-width="1.5" />
<line x1="604.80" y1="626.80" x2="604.80" y2="640.00" stroke="#000" stroke-width="1.5" />
<line x1="604.80" y1="950.70" x2="604.80" y2="955.70" stroke="#000" stroke-width="1.5" />
<line x1="625.66" y1="35.00" x2="625.66" y2="39.60" stroke="#000" stroke-width="1.5" />
<line x1="625.66" y1="630.40" x2="625.66" y2="638.00" stroke="#000" stroke-width="1.5" />
<line x1="625.66" y1="952.70" x2="625.66" y2="955.70" stroke="#000" stroke-width="1.5" />
<line x1="646.53" y1="35.00" x2="646.53" y2="43.20" stroke="#000" stroke-width="1.5" />
<line x1="646.53" y1="626.80" x2="646.53" y2="640.00" stroke="#000" stroke-width="1.5" />
<line x1="646.53" y1="950.70" x2="646.53" y2="955.70" stroke="#000" stroke-width="1.5" />
<line x1="667.40" y1="35.00" x2="667.40" y2="39.60" stroke="#000" stroke-width="1.5" />
<line x1="667.40" y1="630.40" x2="667.40" y2="638.00" stroke="#000" stroke-width="1.5" />
<line x1="667.40" y1="952.70" x2="667.40" y2="955.70" stroke="#000" stroke-width="1.5" />
<line x1="688.26" y1="35.00" x2="688.26" y2="43.20" stroke="#000" stroke-width="1.5" />
<line x1="688.26" y1="626.80" x2="688.26" y2="640.00" stroke="#000" stroke-width="1.5" />
<line x1="688.26" y1="950.70" x2="688.26" y2="955.70" stroke="#000" stroke-width="1.5" />
<line x1="709.13" y1="35.00" x2="709.13" y2="39.60" stroke="#000" stroke-width="1.5" />
<line x1="709.13" y1="630.40" x2="709.13" y2="638.00" stroke="#000" stroke-width="1.5" />
<line x1="709.13" y1="952.70" x2="709.13" y2="955.70" stroke="#000" stroke-width="1.5" />
<line x1="730.00" y1="35.00" x2="730.00" y2="51.00" stroke="#000" stroke-width="1.5" />
<line x1="730.00" y1="619.00" x2="730.00" y2="645.00" stroke="#000" stroke-width="1.5" />
<line x1="730.00" y1="945.70" x2="730.00" y2="955.70" stroke="#000" stroke-width="1.5" />
<line x1="91.00" y1="627.26" x2="102.50" y2="627.26" stroke="#000" stroke-width="1.3" />
<line x1="742.00" y1="627.26" x2="730.50" y2="627.26" stroke="#000" stroke-width="1.3" />
<line x1="91.00" y1="619.49" x2="102.50" y2="619.49" stroke="#000" stroke-width="1.3" />
<line x1="742.00" y1="619.49" x2="730.50" y2="619.49" stroke="#000" stroke-width="1.3" />
<line x1="91.00" y1="612.63" x2="102.50" y2="612.63" stroke="#000" stroke-width="1.3" />
<line x1="742.00" y1="612.63" x2="730.50" y2="612.63" stroke="#000" stroke-width="1.3" />
<line x1="91.00" y1="606.50" x2="113.70" y2="606.50" stroke="#000" stroke-width="1.3" />
<line x1="742.00" y1="606.50" x2="719.30" y2="606.50" stroke="#000" stroke-width="1.3" />
<line x1="91.00" y1="566.16" x2="102.50" y2="566.16" stroke="#000" stroke-width="1.3" />
<line x1="742.00" y1="566.16" x2="730.50" y2="566.16" stroke="#000" stroke-width="1.3" />
<line x1="91.00" y1="542.57" x2="102.50" y2="542.57" stroke="#000" stroke-width="1.3" />
<line x1="742.00" y1="542.57" x2="730.50" y2="542.57" stroke="#000" stroke-width="1.3" />
<line x1="91.00" y1="525.82" x2="102.50" y2="525.82" stroke="#000" stroke-width="1.3" />
<line x1="742.00" y1="525.82" x2="730.50" y2="525.82" stroke="#000" stroke-width="1.3" />
<line x1="91.00" y1="512.84" x2="102.50" y2="512.84" stroke="#000" stroke-width="1.3" />
<line x1="742.00" y1="512.84" x2="730.50" y2="512.84" stroke="#000" stroke-width="1.3" />
<line x1="91.00" y1="502.23" x2="102.50" y2="502.23" stroke="#000" stroke-width="1.3" />
<line x1="742.00" y1="502.23" x2="730.50" y2="502.23" stroke="#000" stroke-width="1.3" />
<line x1="91.00" y1="493.26" x2="102.50" y2="493.26" stroke="#000" stroke-width="1.3" />
<line x1="742.00" y1="493.26" x2="730.50" y2="493.26" stroke="#000" stroke-width="1.3" />
<line x1="91.00" y1="485.49" x2="102.50" y2="485.49" stroke="#000" stroke-width="1.3" />
<line x1="742.00" y1="485.49" x2="730.50" y2="485.49" stroke="#000" stroke-width="1.3" />
<line x1="91.00" y1="478.63" x2="102.50" y2="478.63" stroke="#000" stroke-width="1.3" />
<line x1="742.00" y1="478.63" x2="730.50" y2="478.63" stroke="#000" stroke-width="1.3" />
<line x1="91.00" y1="472.50" x2="113.70" y2="472.50" stroke="#000" stroke-width="1.3" />
<line x1="742.00" y1="472.50" x2="719.30" y2="472.50" stroke="#000" stroke-width="1.3" />
<line x1="91.00" y1="432.16" x2="102.50" y2="432.16" stroke="#000" stroke-width="1.3" />
<line x1="742.00" y1="432.16" x2="730.50" y2="432.16" stroke="#000" stroke-width="1.3" />
<line x1="91.00" y1="408.57" x2="102.50" y2="408.57" stroke="#000" stroke-width="1.3" />
<line x1="742.00" y1="408.57" x2="730.50" y2="408.57" stroke="#000" stroke-width="1.3" />
<line x1="91.00" y1="391.82" x2="102.50" y2="391.82" stroke="#000" stroke-width="1.3" />
<line x1="742.00" y1="391.82" x2="730.50" y2="391.82" stroke="#000" stroke-width="1.3" />
<line x1="91.00" y1="378.84" x2="102.50" y2="378.84" stroke="#000" stroke-width="1.3" />
<line x1="742.00" y1="378.84" x2="730.50" y2="378.84" stroke="#000" stroke-width="1.3" />
<line x1="91.00" y1="368.23" x2="102.50" y2="368.23" stroke="#000" stroke-width="1.3" />
<line x1="742.00" y1="368.23" x2="730.50" y2="368.23" stroke="#000" stroke-width="1.3" />
<line x1="91.00" y1="359.26" x2="102.50" y2="359.26" stroke="#000" stroke-width="1.3" />
<line x1="742.00" y1="359.26" x2="730.50" y2="359.26" stroke="#000" stroke-width="1.3" />
<line x1="91.00" y1="351.49" x2="102.50" y2="351.49" stroke="#000" stroke-width="1.3" />
<line x1="742.00" y1="351.49" x2="730.50" y2="351.49" stroke="#000" stroke-width="1.3" />
<line x1="91.00" y1="344.63" x2="102.50" y2="344.63" stroke="#000" stroke-width="1.3" />
<line x1="742.00" y1="344.63" x2="730.50" y2="344.63" stroke="#000" stroke-width="1.3" />
<line x1="91.00" y1="338.50" x2="113.70" y2="338.50" stroke="#000" stroke-width="1.3" />
<line x1="742.00" y1="338.50" x2="719.30" y2="338.50" stroke="#000" stroke-width="1.3" />
<line x1="91.00" y1="298.16" x2="102.50" y2="298.16" stroke="#000" stroke-width="1.3" />
<line x1="742.00" y1="298.16" x2="730.50" y2="298.16" stroke="#000" stroke-width="1.3" />
<line x1="91.00" y1="274.57" x2="102.50" y2="274.57" stroke="#000" stroke-width="1.3" />
<line x1="742.00" y1="274.57" x2="730.50" y2="274.57" stroke="#000" stroke-width="1.3" />
<line x1="91.00" y1="257.82" x2="102.50" y2="257.82" stroke="#000" stroke-width="1.3" />
<line x1="742.00" y1="257.82" x2="730.50" y2="257.82" stroke="#000" stroke-width="1.3" />
<line x1="91.00" y1="244.84" x2="102.50" y2="244.84" stroke="#000" stroke-width="1.3" />
<line x1="742.00" y1="244.84" x2="730.50" y2="244.84" stroke="#000" stroke-width="1.3" />
<line x1="91.00" y1="234.23" x2="102.50" y2="234.23" stroke="#000" stroke-width="1.3" />
<line x1="742.00" y1="234.23" x2="730.50" y2="234.23" stroke="#000" stroke-width="1.3" />
<line x1="91.00" y1="225.26" x2="102.50" y2="225.26" stroke="#000" stroke-width="1.3" />
<line x1="742.00" y1="225.26" x2="730.50" y2="225.26" stroke="#000" stroke-width="1.3" />
<line x1="91.00" y1="217.49" x2="102.50" y2="217.49" stroke="#000" stroke-width="1.3" />
<line x1="742.00" y1="217.49" x2="730.50" y2="217.49" stroke="#000" stroke-width="1.3" />
<line x1="91.00" y1="210.63" x2="102.50" y2="210.63" stroke="#000" stroke-width="1.3" />
<line x1="742.00" y1="210.63" x2="730.50" y2="210.63" stroke="#000" stroke-width="1.3" />
<line x1="91.00" y1="204.50" x2="113.70" y2="204.50" stroke="#000" stroke-width="1.3" />
<line x1="742.00" y1="204.50" x2="719.30" y2="204.50" stroke="#000" stroke-width="1.3" />
<line x1="91.00" y1="164.16" x2="102.50" y2="164.16" stroke="#000" stroke-width="1.3" />
<line x1="742.00" y1="164.16" x2="730.50" y2="164.16" stroke="#000" stroke-width="1.3" />
<line x1="91.00" y1="140.57" x2="102.50" y2="140.57" stroke="#000" stroke-width="1.3" />
<line x1="742.00" y1="140.57" x2="730.50" y2="140.57" stroke="#000" stroke-width="1.3" />
<line x1="91.00" y1="123.82" x2="102.50" y2="123.82" stroke="#000" stroke-width="1.3" />
<line x1="742.00" y1="123.82" x2="730.50" y2="123.82" stroke="#000" stroke-width="1.3" />
<line x1="91.00" y1="110.84" x2="102.50" y2="110.84" stroke="#000" stroke-width="1.3" />
<line x1="742.00" y1="110.84" x2="730.50" y2="110.84" stroke="#000" stroke-width="1.3" />
<line x1="91.00" y1="100.23" x2="102.50" y2="100.23" stroke="#000" stroke-width="1.3" />
<line x1="742.00" y1="100.23" x2="730.50" y2="100.23" stroke="#000" stroke-width="1.3" />
<line x1="91.00" y1="91.26" x2="102.50" y2="91.26" stroke="#000" stroke-width="1.3" />
<line x1="742.00" y1="91.26" x2="730.50" y2="91.26" stroke="#000" stroke-width="1.3" />
<line x1="91.00" y1="83.49" x2="102.50" y2="83.49" stroke="#000" stroke-width="1.3" />
<line x1="742.00" y1="83.49" x2="730.50" y2="83.49" stroke="#000" stroke-width="1.3" />
<line x1="91.00" y1="76.63" x2="102.50" y2="76.63" stroke="#000" stroke-width="1.3" />
<line x1="742.00" y1="76.63" x2="730.50" y2="76.63" stroke="#000" stroke-width="1.3" />
<line x1="91.00" y1="70.50" x2="113.70" y2="70.50" stroke="#000" stroke-width="1.3" />
<line x1="742.00" y1="70.50" x2="719.30" y2="70.50" stroke="#000" stroke-width="1.3" />
<line x1="91.00" y1="917.00" x2="105.70" y2="917.00" stroke="#000" stroke-width="1.3" />
<line x1="742.00" y1="917.00" x2="727.30" y2="917.00" stroke="#000" stroke-width="1.3" />
<line x1="91.00" y1="885.04" x2="101.20" y2="885.04" stroke="#000" stroke-width="1.3" />
<line x1="742.00" y1="885.04" x2="731.80" y2="885.04" stroke="#000" stroke-width="1.3" />
<line x1="91.00" y1="858.02" x2="101.20" y2="858.02" stroke="#000" stroke-width="1.3" />
<line x1="742.00" y1="858.02" x2="731.80" y2="858.02" stroke="#000" stroke-width="1.3" />
<line x1="91.00" y1="834.61" x2="101.20" y2="834.61" stroke="#000" stroke-width="1.3" />
<line x1="742.00" y1="834.61" x2="731.80" y2="834.61" stroke="#000" stroke-width="1.3" />
<line x1="91.00" y1="813.97" x2="101.20" y2="813.97" stroke="#000" stroke-width="1.3" />
<line x1="742.00" y1="813.97" x2="731.80" y2="813.97" stroke="#000" stroke-width="1.3" />
<line x1="91.00" y1="795.50" x2="105.70" y2="795.50" stroke="#000" stroke-width="1.3" />
<line x1="742.00" y1="795.50" x2="727.30" y2="795.50" stroke="#000" stroke-width="1.3" />
<line x1="91.00" y1="778.79" x2="101.20" y2="778.79" stroke="#000" stroke-width="1.3" />
<line x1="742.00" y1="778.79" x2="731.80" y2="778.79" stroke="#000" stroke-width="1.3" />
<line x1="91.00" y1="763.54" x2="101.20" y2="763.54" stroke="#000" stroke-width="1.3" />
<line x1="742.00" y1="763.54" x2="731.80" y2="763.54" stroke="#000" stroke-width="1.3" />
<line x1="91.00" y1="749.51" x2="101.20" y2="749.51" stroke="#000" stroke-width="1.3" />
<line x1="742.00" y1="749.51" x2="731.80" y2="749.51" stroke="#000" stroke-width="1.3" />
<line x1="91.00" y1="736.52" x2="101.20" y2="736.52" stroke="#000" stroke-width="1.3" />
<line x1="742.00" y1="736.52" x2="731.80" y2="736.52" stroke="#000" stroke-width="1.3" />
<line x1="91.00" y1="724.43" x2="105.70" y2="724.43" stroke="#000" stroke-width="1.3" />
<line x1="742.00" y1="724.43" x2="727.30" y2="724.43" stroke="#000" stroke-width="1.3" />
<line x1="91.00" y1="713.12" x2="101.20" y2="713.12" stroke="#000" stroke-width="1.3" />
<line x1="742.00" y1="713.12" x2="731.80" y2="713.12" stroke="#000" stroke-width="1.3" />
<line x1="91.00" y1="702.49" x2="101.20" y2="702.49" stroke="#000" stroke-width="1.3" />
<line x1="742.00" y1="702.49" x2="731.80" y2="702.49" stroke="#000" stroke-width="1.3" />
<line x1="91.00" y1="692.47" x2="101.20" y2="692.47" stroke="#000" stroke-width="1.3" />
<line x1="742.00" y1="692.47" x2="731.80" y2="692.47" stroke="#000" stroke-width="1.3" />
<line x1="91.00" y1="683.00" x2="101.20" y2="683.00" stroke="#000" stroke-width="1.3" />
<line x1="742.00" y1="683.00" x2="731.80" y2="683.00" stroke="#000" stroke-width="1.3" />
<line x1="91.00" y1="674.00" x2="105.70" y2="674.00" stroke="#000" stroke-width="1.3" />
<line x1="742.00" y1="674.00" x2="727.30" y2="674.00" stroke="#000" stroke-width="1.3" />
<line x1="91.00" y1="665.45" x2="101.20" y2="665.45" stroke="#000" stroke-width="1.3" />
<line x1="742.00" y1="665.45" x2="731.80" y2="665.45" stroke="#000" stroke-width="1.3" />
<line x1="91.00" y1="657.30" x2="101.20" y2="657.30" stroke="#000" stroke-width="1.3" />
<line x1="742.00" y1="657.30" x2="731.80" y2="657.30" stroke="#000" stroke-width="1.3" />
<line x1="91.00" y1="649.51" x2="101.20" y2="649.51" stroke="#000" stroke-width="1.3" />
<line x1="742.00" y1="649.51" x2="731.80" y2="649.51" stroke="#000" stroke-width="1.3" />
<line x1="91.00" y1="642.05" x2="101.20" y2="642.05" stroke="#000" stroke-width="1.3" />
<line x1="742.00" y1="642.05" x2="731.80" y2="642.05" stroke="#000" stroke-width="1.3" />
<rect x="91.0" y="35.0" width="651.0" height="920.70" fill="none" stroke="#000" stroke-width="2"/>
<line x1="91.00" y1="635.00" x2="742.00" y2="635.00" stroke="#000" stroke-width="2" />
<text x="103.10" y="29.00" font-size="24.5" text-anchor="start" fill="#000" >13000 GeV pp</text>
<text x="717.60" y="29.40" font-size="24.5" text-anchor="start" fill="#000" >tt</text>
<line x1="724.40" y1="9.85" x2="730.90" y2="9.85" stroke="#000" stroke-width="1.7" />
<text transform="translate(114.10,85.70) scale(1,1.035)" font-size="24.6">CMS,</text>
<text transform="translate(180.90,85.70) scale(1,1.035)" font-size="24.6">13</text>
<text transform="translate(216.40,85.70) scale(1,1.035)" font-size="24.6">TeV,</text>
<text transform="translate(274.50,85.70) scale(1,1.035)" font-size="24.6" letter-spacing="-0.8">{t}</text>
<text transform="translate(296.60,85.70) scale(1,1.035)" font-size="24.6" letter-spacing="-0.8">{t}</text>
<line x1="301.30" y1="66.30" x2="307.60" y2="66.30" stroke="#000" stroke-width="1.9" />
<text transform="translate(322.00,85.70) scale(1,1.035)" font-size="24.6">e/&#956;</text>
<text transform="translate(362.90,85.70) scale(1,1.035)" font-size="24.6">+{jets}:</text>
<text transform="translate(441.10,85.70) scale(1,1.035)" font-size="24.6">120</text>
<text transform="translate(489.80,85.70) scale(1,1.035)" font-size="24.6">&lt;</text>
<text transform="translate(517.60,85.70) scale(1,1.035)" font-size="24.6">p</text>
<text transform="translate(528.00,97.90) scale(1,1.035)" font-size="15.5">T</text>
<text transform="translate(538.50,85.70) scale(1,1.035)" font-size="24.6">(</text>
<text transform="translate(547.80,85.70) scale(1,1.035)" font-size="24.6" letter-spacing="-0.8">{t}</text>
<text transform="translate(571.20,85.70) scale(1,1.035)" font-size="24.6" letter-spacing="-0.8">{t}</text>
<line x1="576.00" y1="66.30" x2="582.20" y2="66.30" stroke="#000" stroke-width="1.9" />
<text transform="translate(591.40,85.70) scale(1,1.035)" font-size="24.6">)</text>
<text transform="translate(604.90,85.70) scale(1,1.035)" font-size="24.6">&lt;</text>
<text transform="translate(624.40,85.70) scale(1,1.035)" font-size="24.6">200</text>
<text transform="translate(671.70,85.70) scale(1,1.035)" font-size="24.6">GeV</text>
<text x="104.00" y="978.50" font-size="23" text-anchor="middle" fill="#000" >0</text>
<text x="312.66" y="978.50" font-size="23" text-anchor="middle" fill="#000" >500</text>
<text x="521.33" y="978.50" font-size="23" text-anchor="middle" fill="#000" >1000</text>
<text x="730.00" y="978.50" font-size="23" text-anchor="middle" fill="#000" >1500</text>
<text x="37.4" y="80.50" font-size="23">10<tspan font-size="14.5" dy="-9.4">&#8722;4</tspan></text>
<text x="37.4" y="214.50" font-size="23">10<tspan font-size="14.5" dy="-9.4">&#8722;5</tspan></text>
<text x="37.4" y="348.50" font-size="23">10<tspan font-size="14.5" dy="-9.4">&#8722;6</tspan></text>
<text x="37.4" y="482.50" font-size="23">10<tspan font-size="14.5" dy="-9.4">&#8722;7</tspan></text>
<text x="37.4" y="616.50" font-size="23">10<tspan font-size="14.5" dy="-9.4">&#8722;8</tspan></text>
<text x="77.50" y="682.70" font-size="23" text-anchor="end" fill="#000" >2</text>
<text x="747.70" y="682.70" font-size="23" text-anchor="start" fill="#000" >2</text>
<text x="77.50" y="804.20" font-size="23" text-anchor="end" fill="#000" >1</text>
<text x="747.70" y="804.20" font-size="23" text-anchor="start" fill="#000" >1</text>
<text x="77.50" y="925.70" font-size="23" text-anchor="end" fill="#000" >0.5</text>
<text x="747.70" y="925.70" font-size="23" text-anchor="start" fill="#000" >0.5</text>
<rect x="147.4" y="442.85" width="10.9" height="10.9" fill="#000"/>
<line x1="128.80" y1="474.10" x2="177.10" y2="474.10" stroke="#9a9a1c" stroke-width="1.55" />
<rect x="146.85" y="467.95" width="12.3" height="12.3" fill="none" stroke="#9a9a1c" stroke-width="1.5"/>
<line x1="128.80" y1="500.00" x2="177.10" y2="500.00" stroke="#e8c81e" stroke-width="1.55" stroke-dasharray="7.5 3.6 2 3.6"/>
<circle cx="153.00" cy="500.00" r="1.7" fill="#e8c81e"/>
<line x1="128.80" y1="526.00" x2="177.10" y2="526.00" stroke="#c6e61e" stroke-width="1.55" stroke-dasharray="1.6 2.56"/>
<circle cx="153.00" cy="526.00" r="1.7" fill="#c6e61e"/>
<line x1="128.80" y1="552.00" x2="177.10" y2="552.00" stroke="#1cbd80" stroke-width="1.55" stroke-dasharray="4.3 3.95"/>
<rect x="149.80" y="548.80" width="6.4" height="6.4" fill="#1cbd80"/>
<text x="186.60" y="454.00" font-size="19.1" text-anchor="start" fill="#000" >CMS</text>
<text x="186.60" y="479.80" font-size="19.1" text-anchor="start" fill="#000" >Pythia 6.428 350</text>
<text x="186.60" y="505.70" font-size="19.1" text-anchor="start" fill="#000" >Pythia 6.428 357</text>
<text x="186.60" y="531.70" font-size="19.1" text-anchor="start" fill="#000" >Pythia 6.428 358</text>
<text x="186.60" y="557.70" font-size="19.1" text-anchor="start" fill="#000" >Pythia 6.428 359</text>
<text transform="translate(415.9,604.3) scale(1,1.05)" font-size="15.8" text-anchor="middle" fill="#9a9a9a">(CMS_2021_I1901295)</text>
<text transform="translate(759.9,254.6) rotate(-90) scale(1,1.05)" font-size="18.9" fill="#7a7a7a">Rivet 4.1.0, &#8805; 100k events</text>
<text transform="translate(762.3,629.3) rotate(-90) scale(1,1.05)" font-size="18.95" fill="#7a7a7a">mcplots.cern.ch [arXiv:1306.3436]</text>
<text transform="translate(36.7,847.2) rotate(-90) scale(1,1.1)" font-size="18">Ratio to CMS</text>
<text transform="translate(601.60,1003.00) scale(1,1.04)" font-size="25.5">p</text>
<text transform="translate(615.60,1016.20) scale(1,1.04)" font-size="15.8">T</text>
<text transform="translate(626.20,1003.00) scale(1,1.04)" font-size="25.5">(</text>
<text transform="translate(634.30,1003.00) scale(1,1.04)" font-size="25.5">{</text>
<text transform="translate(641.40,1003.00) scale(1,1.04)" font-size="25.5">t</text>
<text transform="translate(648.00,1003.00) scale(1,1.04)" font-size="25.5">}</text>
<text transform="translate(656.90,1016.20) scale(1,1.04)" font-size="15.8">h</text>
<text transform="translate(666.75,1003.00) scale(1,1.04)" font-size="25.5">)</text>
<text transform="translate(680.60,1003.00) scale(1,1.04)" font-size="25.5">[GeV]</text>
<g transform="translate(28.8,413.7) rotate(-90) scale(1,1.035)" font-size="24.8">
<text x="0.20" y="0.00">#</text>
<line x1="14.10" y1="-6.38" x2="62.80" y2="-6.38" stroke="#000" stroke-width="2.03"/>
<text x="33.60" y="-9.76">1</text>
<text x="13.10" y="9.57">&#963;</text>
<text x="28.20" y="14.78" font-size="15.8">norm</text>
<text x="70.50" y="0.00">#</text>
<line x1="83.40" y1="-6.38" x2="150.00" y2="-6.38" stroke="#000" stroke-width="2.03"/>
<text x="98.80" y="-10.05">d</text>
<text x="111.30" y="-21.64" font-size="15">2</text>
<text x="120.00" y="-10.05">&#963;</text>
<text x="83.50" y="14.20">d</text>
<text x="102.80" y="14.20">p</text>
<text x="116.90" y="26.09" font-size="15.8">T</text>
<text x="126.50" y="14.20">(</text>
<text x="134.60" y="14.20">{</text>
<text x="141.50" y="14.20">t</text>
<text x="150.10" y="-0.29">{</text>
<text x="156.60" y="-0.29">t</text>
<line x1="157.00" y1="-18.70" x2="162.90" y2="-18.70" stroke="#000" stroke-width="2.03"/>
<text x="163.00" y="-0.29">}</text>
<text x="170.75" y="-0.29">)</text>
<text x="185.50" y="0.00">d</text>
<text x="204.70" y="0.00">p</text>
<text x="228.50" y="0.00">(</text>
<text x="237.10" y="0.00">{</text>
<text x="243.50" y="0.00">t</text>
<text x="251.60" y="0.00">}</text>
<text x="268.45" y="0.00">)</text>
<text x="275.70" y="0.00">}</text>
<text x="289.70" y="0.00">[</text>
<text x="297.70" y="0.00">{</text>
<text x="304.95" y="0.00">G</text>
<text x="322.10" y="0.00">e</text>
<text x="338.60" y="0.00">V</text>
<text x="353.90" y="0.00">}</text>
<text x="372.80" y="0.00">]</text>
<text x="218.35" y="11.59" font-size="15.8">T</text>
<text x="258.90" y="11.11" font-size="15.8">h</text>
<text x="359.80" y="-11.50" font-size="15.8">-2</text>
</g>
</svg>
</body></html>
